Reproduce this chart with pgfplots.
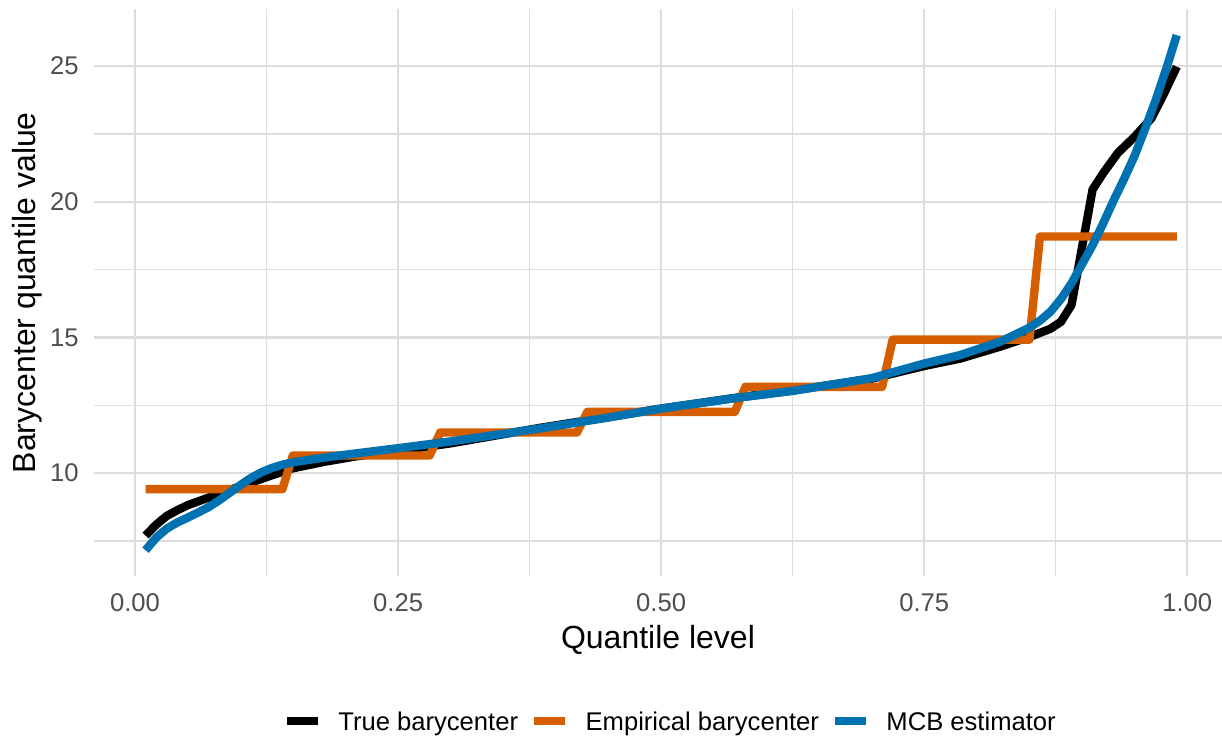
\documentclass[border=0pt]{standalone}
\usepackage{fontspec}
\setmainfont{Liberation Sans}
\usepackage{pgfplots}
\pgfplotsset{compat=1.18}
\definecolor{mcborange}{HTML}{D55E00}
\definecolor{mcbblue}{HTML}{0072B2}
\definecolor{gridc}{HTML}{DDDDDD}
\definecolor{tickc}{HTML}{4D4D4D}
\begin{document}
\begin{tikzpicture}
\useasboundingbox (0,0) rectangle (611pt,367.5pt);
\begin{axis}[
  at={(47pt,79.5pt)}, anchor=south west, scale only axis,
  width=564pt, height=283.3pt,
  xmin=-0.039, xmax=1.033, ymin=6.21, ymax=27.09,
  axis line style={draw=none}, tick style={draw=none},
  major tick length=0pt, minor tick length=0pt,
  xtick={0,0.25,0.5,0.75,1}, xticklabels={0.00,0.25,0.50,0.75,1.00},
  ytick={10,15,20,25}, yticklabels={10,15,20,25},
  minor xtick={0.125,0.375,0.625,0.875},
  minor ytick={7.5,12.5,17.5,22.5},
  grid=both,
  major grid style={draw=gridc, line width=1.1pt},
  minor grid style={draw=gridc, line width=0.6pt},
  tick label style={font=\fontsize{12.8}{15}\selectfont, text=tickc},
  xticklabel style={anchor=north, inner sep=0pt, yshift=-8.5pt},
  yticklabel style={anchor=east, inner sep=0pt, xshift=-7.5pt},
  xlabel={Quantile level}, ylabel={Barycenter quantile value},
  every axis x label/.style={at={(axis description cs:0.5,-0.0865)}, anchor=north, inner sep=0pt, font=\fontsize{16}{19}\selectfont},
  every axis y label/.style={at={(axis description cs:-0.0727,0.5)}, rotate=90, anchor=north, inner sep=0pt, font=\fontsize{16}{19}\selectfont},
  legend columns=3,
  legend image code/.code={\draw[#1, line width=4.25pt, line cap=butt] (0pt,0.8pt) -- (15.5pt,0.8pt);},
  legend style={at={(axis description cs:0.5098,-0.2586)}, anchor=center, draw=none, fill=none,
    font=\fontsize{12.8}{15}\selectfont, nodes={inner sep=0pt},
    /tikz/every odd column/.append style={column sep=8.25pt},
    /tikz/every even column/.append style={column sep=5.75pt}},
]
\addplot[black, line width=4.2pt, line join=round] coordinates {
(0.01,7.70) (0.02,8.10) (0.03,8.42) (0.04,8.63) (0.05,8.82) (0.07,9.10)
(0.09,9.38) (0.11,9.65) (0.13,9.92) (0.15,10.18) (0.18,10.42) (0.21,10.62)
(0.25,10.82) (0.30,11.10) (0.385,11.67) (0.45,12.07) (0.50,12.38) (0.575,12.80)
(0.625,13.05) (0.70,13.48) (0.75,13.95) (0.784,14.22) (0.822,14.66) (0.85,15.02)
(0.87,15.32) (0.88,15.58) (0.89,16.20) (0.91,20.45) (0.92,21.05) (0.934,21.80)
(0.95,22.40) (0.966,23.08) (0.978,24.00) (0.99,24.98)
};
\addplot[mcborange, line width=4.2pt, line join=round] coordinates {
(0.01,9.41) (0.14,9.41) (0.15,10.65) (0.28,10.65) (0.29,11.50) (0.42,11.50)
(0.43,12.26) (0.57,12.26) (0.58,13.18) (0.71,13.18) (0.72,14.92) (0.85,14.92)
(0.86,18.72) (0.99,18.72)
};
\addplot[mcbblue, line width=4.2pt, line join=round] coordinates {
(0.01,7.16) (0.02,7.62) (0.03,7.95) (0.04,8.18) (0.05,8.36) (0.06,8.55)
(0.07,8.75) (0.08,9.00) (0.09,9.28) (0.10,9.56) (0.11,9.82) (0.12,10.03)
(0.13,10.19) (0.14,10.31) (0.15,10.40) (0.17,10.52) (0.20,10.68) (0.25,10.92)
(0.30,11.17) (0.35,11.45) (0.385,11.65) (0.45,12.05) (0.50,12.38) (0.575,12.79)
(0.625,13.03) (0.70,13.50) (0.75,14.04) (0.784,14.35) (0.822,14.84) (0.85,15.36)
(0.86,15.62) (0.87,15.95) (0.88,16.42) (0.89,17.00) (0.90,17.70) (0.91,18.40)
(0.92,19.20) (0.93,20.05) (0.94,20.85) (0.95,21.70) (0.96,22.70) (0.97,23.75)
(0.98,24.90) (0.99,26.14)
};
\legend{True barycenter, Empirical barycenter, MCB estimator}
\end{axis}
\end{tikzpicture}
\end{document}
